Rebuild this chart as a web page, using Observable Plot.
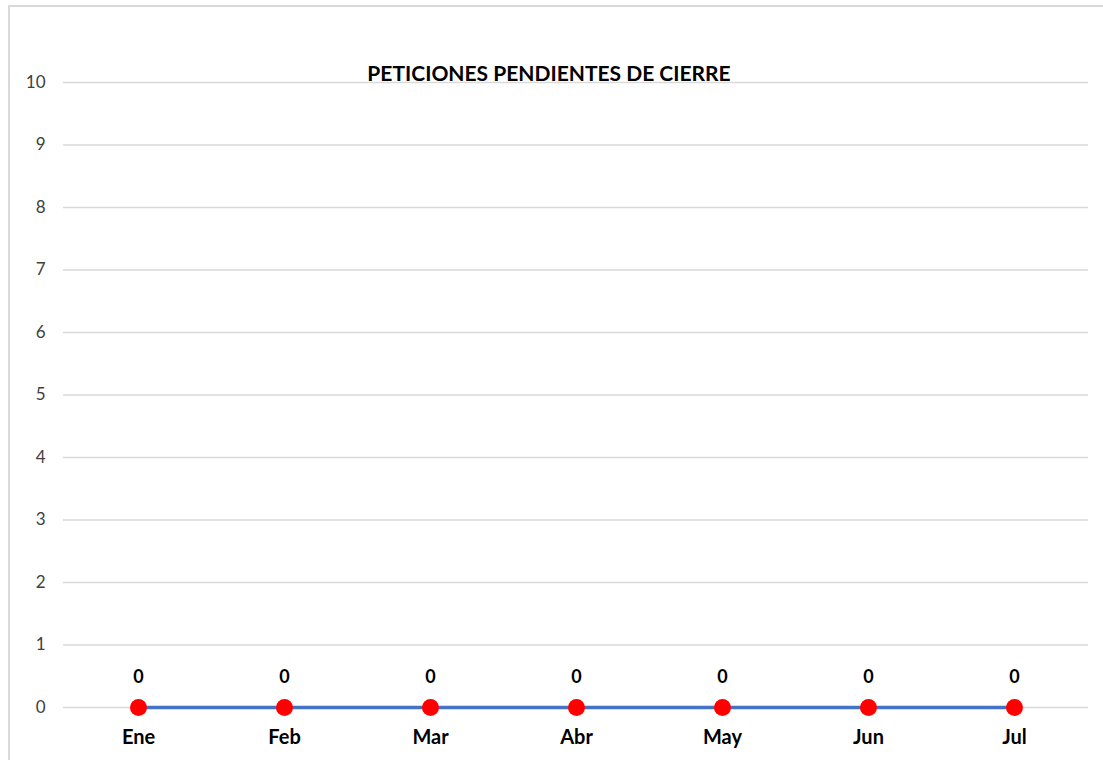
<!DOCTYPE html>
<html>
<head>
<meta charset="utf-8">
<script src="https://cdn.jsdelivr.net/npm/d3@7"></script>
<script src="https://cdn.jsdelivr.net/npm/@observablehq/plot@0.6"></script>
<style>
  html, body { margin: 0; padding: 0; background: #fff; overflow: hidden; }
  #frame { position: absolute; left: 8px; top: 5px; width: 1200px; height: 900px; border: 2px solid #d9d9d9; box-sizing: border-box; }
  #chart { position: absolute; left: 0; top: 0; }
</style>
</head>
<body>
<div id="frame"></div>
<div id="chart"></div>
<script>
const title = "PETICIONES PENDIENTES DE CIERRE";
const months = ["Ene", "Feb", "Mar", "Abr", "May", "Jun", "Jul"];
const values = [0, 0, 0, 0, 0, 0, 0];
const yTicks = [0, 1, 2, 3, 4, 5, 6, 7, 8, 9, 10];

const data = months.map((m, i) => ({month: m, value: values[i]}));
const font = "Lato, 'Open Sans', sans-serif";

const chart = Plot.plot({
  width: 1103,
  height: 760,
  marginLeft: 63,
  marginRight: 15,
  marginTop: 82,
  marginBottom: 53,
  style: {background: "transparent", fontFamily: font, color: "#000", overflow: "visible"},
  x: {type: "point", domain: months, padding: 0.5, label: null},
  y: {domain: [0, 10], ticks: yTicks, label: null},
  marks: [
    Plot.gridY(yTicks, {stroke: "#d9d9d9", strokeOpacity: 1, strokeWidth: 1.5}),
    Plot.axisY(yTicks, {tickSize: 0, tickPadding: 18, fontSize: 17, fill: "#404040", label: null, tickFormat: d => String(d)}),
    Plot.axisX({tickSize: 0, tickPadding: 22, fontSize: 20, fontWeight: "bold", fill: "#000", label: null}),
    Plot.line(data, {x: "month", y: "value", stroke: "#4472C4", strokeWidth: 3.5}),
    Plot.dot(data, {x: "month", y: "value", r: 8.5, fill: "#ff0000", stroke: "none"}),
    Plot.text(data, {x: "month", y: "value", text: d => String(d.value), dy: -30, fontSize: 18, fontWeight: "bold", fill: "#000"}),
    Plot.text([title], {frameAnchor: "top", dx: -27, dy: -2, fontSize: 21, fontWeight: "bold", fill: "#000", lineAnchor: "bottom"})
  ]
});
document.getElementById("chart").appendChild(chart);
</script>
</body>
</html>
